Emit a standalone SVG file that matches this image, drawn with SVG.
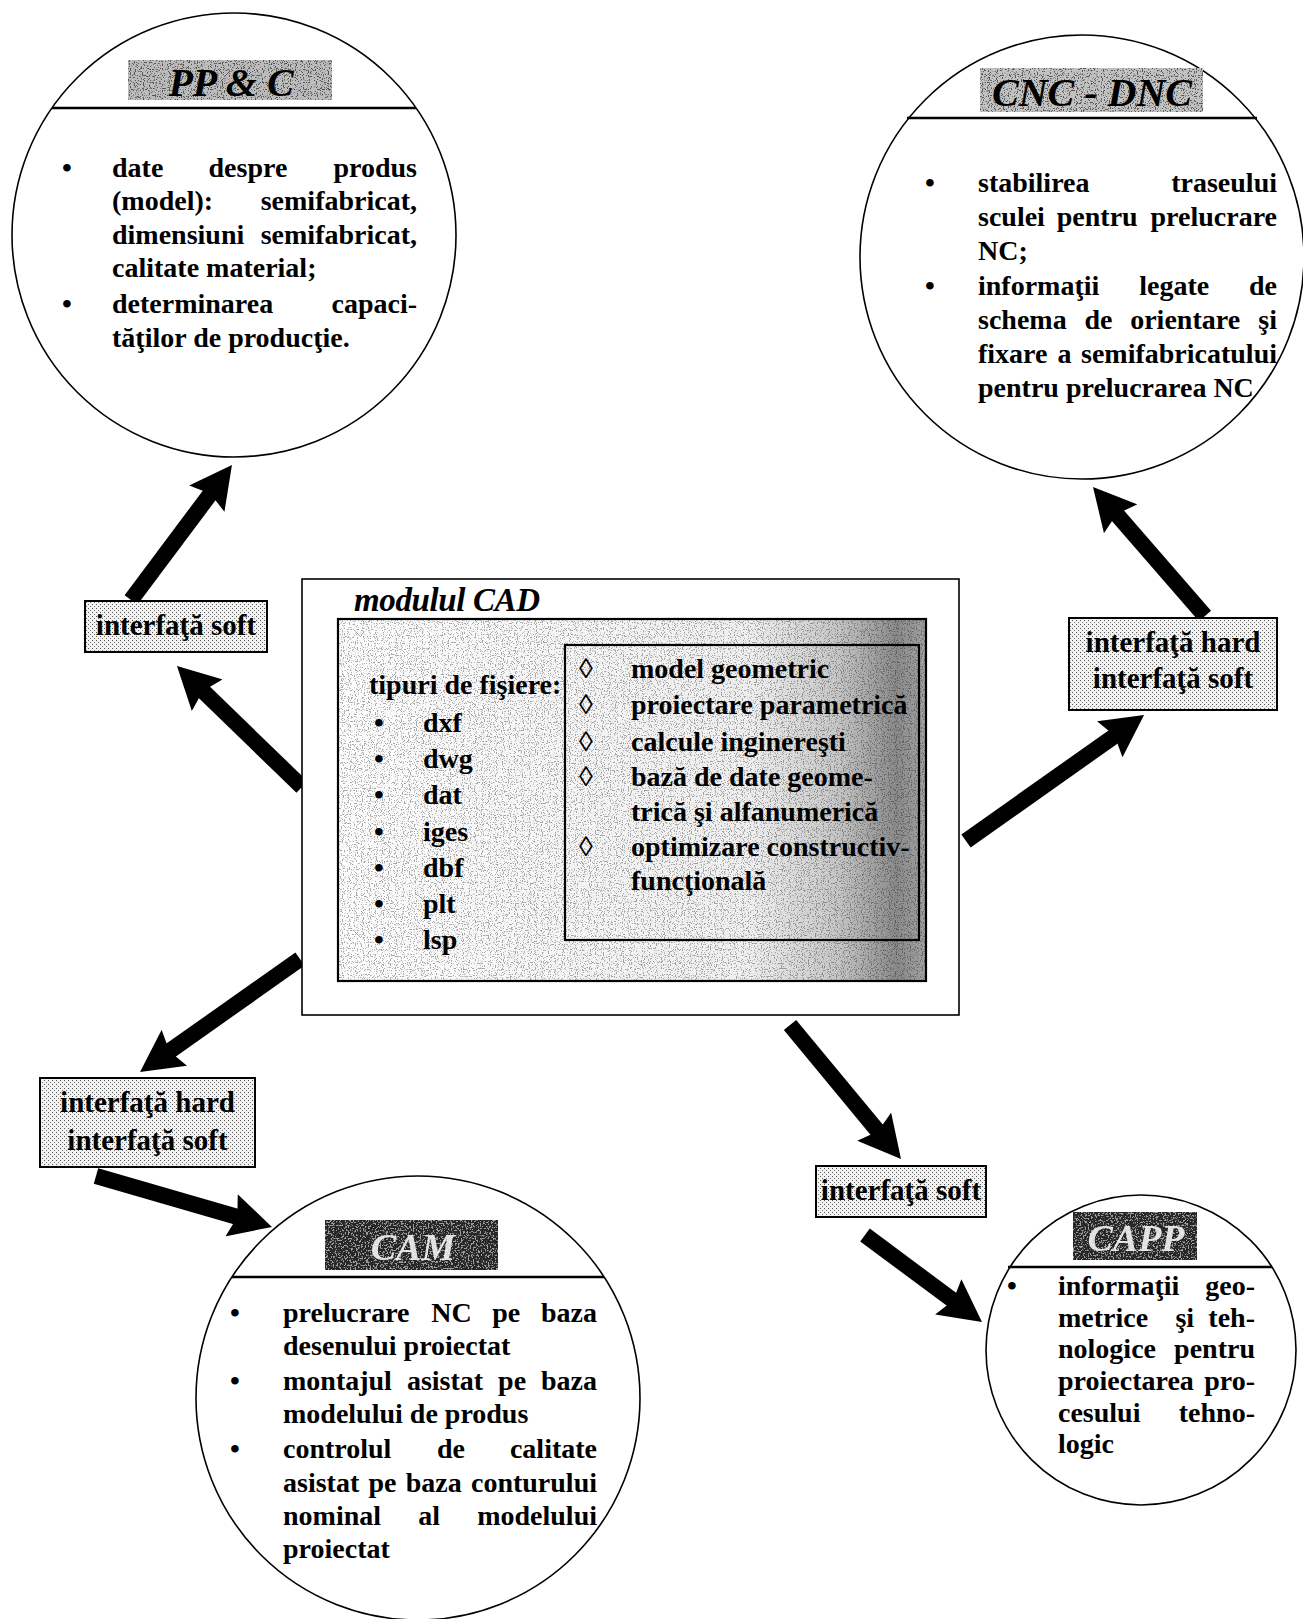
<svg xmlns="http://www.w3.org/2000/svg" width="1303" height="1619" viewBox="0 0 1303 1619">
  <defs>
    <style>
      text { font-family: "Liberation Serif", "Times New Roman", "DejaVu Serif", serif; font-weight: bold; font-size: 28px; fill: #000; }
      .end { text-anchor: end; }
      .mid { text-anchor: middle; }
      .hdr { font-style: italic; font-size: 38px; text-anchor: middle; }
      .hdr-big { font-size: 40px; }
      .hdr-inv { fill: #f4f4f4; }
      .title { font-style: italic; font-size: 33px; }
      .lbl { font-size: 29px; text-anchor: middle; }
      .ring { fill: #fff; stroke: #000; stroke-width: 1.6; }
      .rule { stroke: #000; stroke-width: 2.4; }
      .iface { fill: url(#stipple); stroke: #000; stroke-width: 2; }
      .frame { fill: none; stroke: #000; stroke-width: 2.2; }
      .arrow { stroke: #000; stroke-width: 16; fill: none; marker-end: url(#head); }
    </style>
    <pattern id="stipple" width="4" height="4" patternUnits="userSpaceOnUse">
      <rect width="4" height="4" fill="#f2f2f2"/>
      <rect width="1" height="1" fill="#555"/>
      <rect x="2" y="2" width="1" height="1" fill="#777"/>
    </pattern>
    <linearGradient id="cadShade" x1="0" y1="0" x2="1" y2="0">
      <stop offset="0" stop-color="#fdfdfd"/>
      <stop offset="0.7" stop-color="#efefef"/>
      <stop offset="0.85" stop-color="#c6c6c6"/>
      <stop offset="0.95" stop-color="#8a8a8a"/>
      <stop offset="1" stop-color="#a2a2a2"/>
    </linearGradient>
    <filter id="speckDark" x="0" y="0" width="1" height="1" color-interpolation-filters="sRGB">
      <feTurbulence type="fractalNoise" baseFrequency="0.85" numOctaves="1" seed="4"/>
      <feColorMatrix type="matrix" values="0 0 0 0 0  0 0 0 0 0  0 0 0 0 0  12 0 0 0 -6.6"/>
    </filter>
    <filter id="speckLight" x="0" y="0" width="1" height="1" color-interpolation-filters="sRGB">
      <feTurbulence type="fractalNoise" baseFrequency="0.6" numOctaves="2" seed="9"/>
      <feColorMatrix type="matrix" values="0 0 0 0 1  0 0 0 0 1  0 0 0 0 1  12 0 0 0 -6.4"/>
    </filter>
    <marker id="head" viewBox="0 0 44 44" markerWidth="44" markerHeight="44" refX="8" refY="22" orient="auto" markerUnits="userSpaceOnUse">
      <path d="M0,0 L42,22 L0,44 L6,22 Z" fill="#000"/>
    </marker>
  </defs>

  <rect width="1303" height="1619" fill="#fff"/>

  <!-- connectors: thick block arrows -->
  <g id="connectors">
    <line class="arrow" x1="131" y1="600" x2="211.6" y2="492.2"/>
    <line class="arrow" x1="302" y1="787" x2="201.4" y2="689.6"/>
    <line class="arrow" x1="300" y1="959" x2="167.8" y2="1052.4"/>
    <line class="arrow" x1="96" y1="1176" x2="239.3" y2="1217.5"/>
    <line class="arrow" x1="790" y1="1025" x2="879.3" y2="1132.8"/>
    <line class="arrow" x1="865" y1="1235" x2="954.7" y2="1301.7"/>
    <line class="arrow" x1="966" y1="841" x2="1116.3" y2="734.7"/>
    <line class="arrow" x1="1205" y1="616" x2="1115.3" y2="512.7"/>
  </g>

  <!-- PP & C -->
  <g id="node-ppc">
    <circle class="ring" cx="234" cy="235" r="222"/>
    <rect x="128" y="60" width="204" height="40" fill="#bcbcbc"/>
    <rect x="128" y="60" width="204" height="40" fill="#000" filter="url(#speckDark)" opacity="0.55"/>
    <text class="hdr hdr-big" x="231" y="96">PP &amp; C</text>
    <line class="rule" x1="52" y1="108" x2="416" y2="108"/>
    <text class="mid" x="67" y="177">•</text>
    <text class="mid" x="67" y="313">•</text>
    <text x="112" y="177">date</text>
    <text x="208.5" y="177">despre</text>
    <text class="end" x="417" y="177">produs</text>
    <text x="112" y="210">(model):</text>
    <text class="end" x="417" y="210">semifabricat,</text>
    <text x="112" y="244">dimensiuni</text>
    <text class="end" x="417" y="244">semifabricat,</text>
    <text x="112" y="277">calitate material;</text>
    <text x="112" y="313">determinarea</text>
    <text class="end" x="417" y="313">capaci-</text>
    <text x="112" y="347">tăţilor de producţie.</text>
  </g>

  <!-- CNC - DNC -->
  <g id="node-cnc">
    <circle class="ring" cx="1082" cy="257" r="222"/>
    <rect x="980" y="68" width="223" height="44" fill="#c2c2c2"/>
    <rect x="980" y="68" width="223" height="44" fill="#000" filter="url(#speckDark)" opacity="0.55"/>
    <text class="hdr hdr-big" x="1092" y="106">CNC - DNC</text>
    <line class="rule" x1="907" y1="118" x2="1257" y2="118"/>
    <text class="mid" x="930" y="192">•</text>
    <text class="mid" x="930" y="295">•</text>
    <text x="978" y="192">stabilirea</text>
    <text class="end" x="1277" y="192">traseului</text>
    <text x="978" y="226">sculei</text>
    <text x="1056.8" y="226">pentru</text>
    <text class="end" x="1277" y="226">prelucrare</text>
    <text x="978" y="260">NC;</text>
    <text x="978" y="295">informaţii</text>
    <text x="1139.2" y="295">legate</text>
    <text class="end" x="1277" y="295">de</text>
    <text x="978" y="329">schema</text>
    <text x="1084.4" y="329">de</text>
    <text x="1130.2" y="329">orientare</text>
    <text class="end" x="1277" y="329">şi</text>
    <text x="978" y="363">fixare</text>
    <text x="1057.5" y="363">a</text>
    <text class="end" x="1277" y="363">semifabricatului</text>
    <text x="978" y="397">pentru prelucrarea NC</text>
  </g>

  <!-- central CAD module -->
  <g id="node-cad">
    <rect x="302" y="579" width="657" height="436" fill="#fff" stroke="#000" stroke-width="1.6"/>
    <text class="title" x="354" y="611" textLength="186">modulul CAD</text>
    <rect x="338" y="619" width="588" height="362" fill="url(#cadShade)"/>
    <rect x="338" y="619" width="588" height="362" fill="#000" filter="url(#speckDark)" opacity="0.32"/>
    <rect class="frame" x="338" y="619" width="588" height="362"/>
    <rect class="frame" x="565" y="645" width="354" height="295"/>
    <text x="369" y="694">tipuri de fişiere:</text>
    <text class="mid" x="379" y="732">•</text>
    <text class="mid" x="379" y="768">•</text>
    <text class="mid" x="379" y="804">•</text>
    <text class="mid" x="379" y="841">•</text>
    <text class="mid" x="379" y="877">•</text>
    <text class="mid" x="379" y="913">•</text>
    <text class="mid" x="379" y="949">•</text>
    <text x="423" y="732">dxf</text>
    <text x="423" y="768">dwg</text>
    <text x="423" y="804">dat</text>
    <text x="423" y="841">iges</text>
    <text x="423" y="877">dbf</text>
    <text x="423" y="913">plt</text>
    <text x="423" y="949">lsp</text>
    <text x="579" y="678">◊</text>
    <text x="579" y="714">◊</text>
    <text x="579" y="751">◊</text>
    <text x="579" y="786">◊</text>
    <text x="579" y="856">◊</text>
    <text x="631" y="678">model geometric</text>
    <text x="631" y="714">proiectare parametrică</text>
    <text x="631" y="751">calcule inginereşti</text>
    <text x="631" y="786">bază de date geome-</text>
    <text x="631" y="821">trică şi alfanumerică</text>
    <text x="631" y="856">optimizare constructiv-</text>
    <text x="631" y="890">funcţională</text>
  </g>

  <!-- interface labels -->
  <g id="node-iface-soft-left">
    <rect class="iface" x="85" y="601" width="182" height="51"/>
    <text class="lbl" x="176" y="635">interfaţă soft</text>
  </g>
  <g id="node-iface-hard-right">
    <rect class="iface" x="1069" y="618" width="208" height="92"/>
    <text class="lbl" x="1173" y="652">interfaţă hard</text>
    <text class="lbl" x="1173" y="688">interfaţă soft</text>
  </g>
  <g id="node-iface-hard-left">
    <rect class="iface" x="40" y="1078" width="215" height="89"/>
    <text class="lbl" x="147.5" y="1112">interfaţă hard</text>
    <text class="lbl" x="147.5" y="1150">interfaţă soft</text>
  </g>
  <g id="node-iface-soft-right">
    <rect class="iface" x="816" y="1166" width="170" height="51"/>
    <text class="lbl" x="901" y="1200">interfaţă soft</text>
  </g>

  <!-- CAM -->
  <g id="node-cam">
    <circle class="ring" cx="418" cy="1398" r="222"/>
    <rect x="325" y="1220" width="173" height="50" fill="#262626"/>
    <rect x="325" y="1220" width="173" height="50" fill="#fff" filter="url(#speckLight)" opacity="0.55"/>
    <text class="hdr hdr-inv" x="413" y="1260" opacity="0.9">CAM</text>
    <line class="rule" x1="232" y1="1277" x2="604" y2="1277"/>
    <text class="mid" x="235" y="1322">•</text>
    <text class="mid" x="235" y="1390">•</text>
    <text class="mid" x="235" y="1458">•</text>
    <text x="283" y="1322">prelucrare</text>
    <text x="431.2" y="1322">NC</text>
    <text x="492.3" y="1322">pe</text>
    <text class="end" x="597" y="1322">baza</text>
    <text x="283" y="1355">desenului proiectat</text>
    <text x="283" y="1390">montajul</text>
    <text x="406.9" y="1390">asistat</text>
    <text x="498.1" y="1390">pe</text>
    <text class="end" x="597" y="1390">baza</text>
    <text x="283" y="1423">modelului de produs</text>
    <text x="283" y="1458">controlul</text>
    <text x="436.9" y="1458">de</text>
    <text class="end" x="597" y="1458">calitate</text>
    <text x="283" y="1492">asistat</text>
    <text x="368.5" y="1492">pe</text>
    <text x="405.8" y="1492">baza</text>
    <text class="end" x="597" y="1492">conturului</text>
    <text x="283" y="1525">nominal</text>
    <text x="418.2" y="1525">al</text>
    <text class="end" x="597" y="1525">modelului</text>
    <text x="283" y="1558">proiectat</text>
  </g>

  <!-- CAPP -->
  <g id="node-capp">
    <circle class="ring" cx="1141" cy="1350" r="155"/>
    <rect x="1073" y="1212" width="124" height="48" fill="#262626"/>
    <rect x="1073" y="1212" width="124" height="48" fill="#fff" filter="url(#speckLight)" opacity="0.55"/>
    <text class="hdr hdr-inv" x="1136" y="1251" opacity="0.9">CAPP</text>
    <line class="rule" x1="1008" y1="1267" x2="1272" y2="1267"/>
    <text class="mid" x="1012" y="1295">•</text>
    <text x="1058" y="1295">informaţii</text>
    <text class="end" x="1255" y="1295">geo-</text>
    <text x="1058" y="1327">metrice</text>
    <text x="1175.4" y="1327">şi</text>
    <text class="end" x="1255" y="1327">teh-</text>
    <text x="1058" y="1358">nologice</text>
    <text class="end" x="1255" y="1358">pentru</text>
    <text x="1058" y="1390">proiectarea</text>
    <text class="end" x="1255" y="1390">pro-</text>
    <text x="1058" y="1422">cesului</text>
    <text class="end" x="1255" y="1422">tehno-</text>
    <text x="1058" y="1453">logic</text>
  </g>
</svg>
